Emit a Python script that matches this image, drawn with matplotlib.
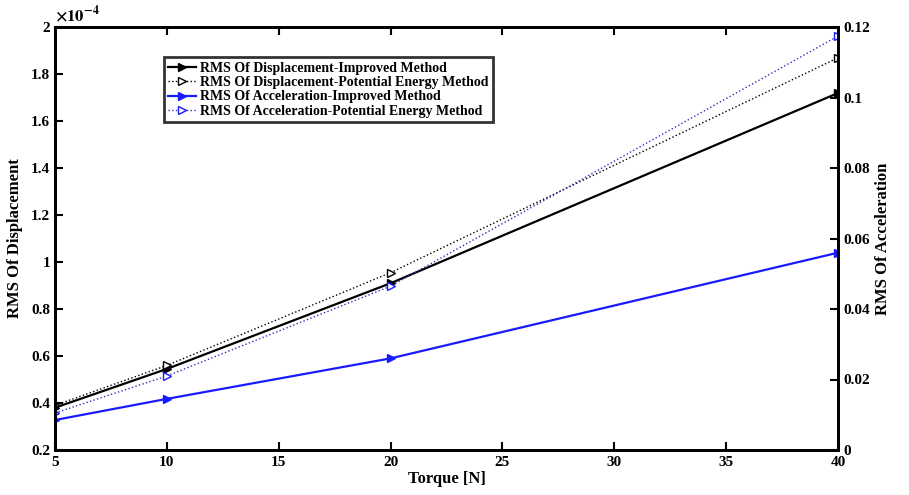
import matplotlib.pyplot as plt
from matplotlib.lines import Line2D

plt.rcParams['font.family'] = ['Liberation Serif', 'DejaVu Serif']
plt.rcParams['font.weight'] = 'bold'
plt.rcParams['mathtext.fontset'] = 'stix'

# torque steps
torque = [5, 10, 20, 40]

# RMS displacement (x1e-4)
disp_improved = [0.38, 0.545, 0.91, 1.72]
disp_potential = [0.39, 0.56, 0.955, 1.87]

# RMS acceleration
acc_improved = [0.0085, 0.0145, 0.026, 0.056]
acc_potential = [0.0105, 0.021, 0.0465, 0.1175]

fig = plt.figure(figsize=(9.09, 4.95), dpi=100)
ax = fig.add_axes([0.0605, 0.091, 0.8615, 0.854])
ax2 = ax.twinx()

ax.plot(torque, disp_improved, color='black', lw=1.6, marker='>', ms=6,
        mfc='black', mec='black')
ax.plot(torque, disp_potential, color='black', lw=1.0, ls=':', marker='>', ms=6,
        mfc='white', mec='black')
ax2.plot(torque, acc_improved, color='#1a1aff', lw=1.6, marker='>', ms=6,
         mfc='#1a1aff', mec='#1a1aff')
ax2.plot(torque, acc_potential, color='#3030c0', lw=1.0, ls=':', marker='>', ms=6,
         mfc='white', mec='#1a1aff')

ax.set_xlim(5, 40)
ax.set_ylim(0.2, 2.0)
ax2.set_ylim(0, 0.12)
ax.set_xticks(range(5, 41, 5))
ax.set_yticks([0.2, 0.4, 0.6, 0.8, 1.0, 1.2, 1.4, 1.6, 1.8, 2.0])
ax.set_yticklabels(['0.2', '0.4', '0.6', '0.8', '1', '1.2', '1.4', '1.6', '1.8', '2'])
ax2.set_yticks([0, 0.02, 0.04, 0.06, 0.08, 0.1, 0.12])
ax2.set_yticklabels(['0', '0.02', '0.04', '0.06', '0.08', '0.1', '0.12'])

for a in (ax, ax2):
    for s in a.spines.values():
        s.set_linewidth(2.0)
ax.tick_params(axis='x', direction='in', top=True, length=6, width=1.5,
               labelsize=11, pad=4)
ax.tick_params(axis='y', direction='in', length=6, width=1.5, labelsize=11)
ax2.tick_params(axis='y', direction='in', length=6, width=1.5, labelsize=11)

ax.set_xlabel('Torque [N]', fontsize=12, fontweight='bold', labelpad=2)
ax.set_ylabel('RMS Of Displacement', fontsize=12, fontweight='bold', labelpad=6)
ax2.set_ylabel('RMS Of Acceleration', fontsize=12, fontweight='bold')
ax.text(0.0, 1.005, r'$\times10^{-4}$', transform=ax.transAxes, fontsize=12,
        ha='left', va='bottom')

handles = [
    Line2D([], [], color='black', lw=1.6, marker='>', ms=6, mfc='black'),
    Line2D([], [], color='black', lw=1.0, ls=':', marker='>', ms=6, mfc='white'),
    Line2D([], [], color='#1a1aff', lw=1.6, marker='>', ms=6, mfc='#1a1aff'),
    Line2D([], [], color='#3030c0', lw=1.0, ls=':', marker='>', ms=6,
           mfc='white', mec='#1a1aff'),
]
labels = [
    'RMS Of Displacement-Improved Method',
    'RMS Of Displacement-Potential Energy Method',
    'RMS Of Acceleration-Improved Method',
    'RMS Of Acceleration-Potential Energy Method',
]
leg = ax.legend(handles, labels, loc='upper left', bbox_to_anchor=(0.13, 0.945),
                frameon=True, fancybox=False, handlelength=2.0,
                handletextpad=0.3, borderpad=0.3, labelspacing=0.1,
                prop={'weight': 'bold', 'size': 10})
leg.get_frame().set_edgecolor('black')
leg.get_frame().set_linewidth(2.0)

fig.savefig('out.png', dpi=100)
